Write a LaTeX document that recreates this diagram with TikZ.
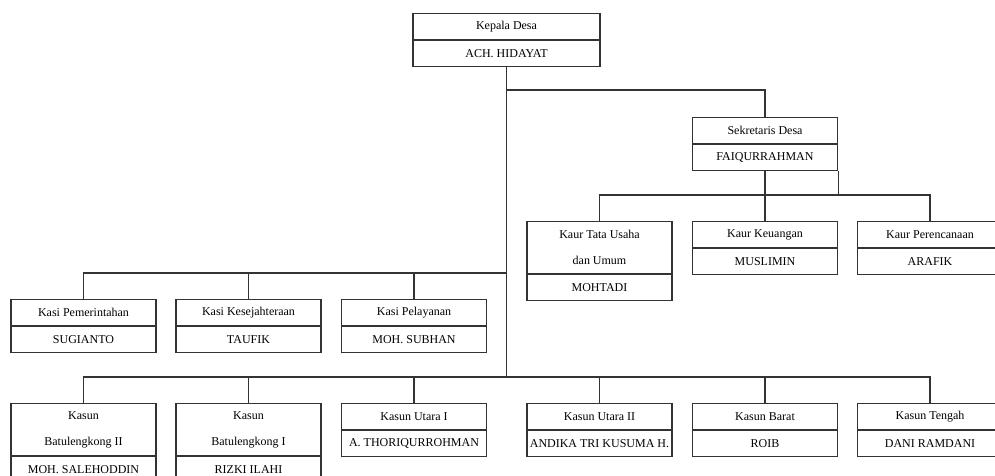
\documentclass[tikz,border=0pt]{standalone}
\usepackage{fontspec}
\setmainfont{Liberation Serif}
\tikzset{
	kotak/.style={draw=black!80, line width=0.9pt, minimum width=108.75pt, minimum height=19.5pt, inner sep=0pt, font=\fontsize{9}{19.5}\selectfont},
	kotakdua/.style={kotak, minimum height=39pt, align=center},
	garis/.style={draw=black!80, line width=0.9pt}
}

\begin{document}
\begin{tikzpicture}[x=0.75pt, y=-0.75pt]
			%%%%% START %%%%%
			\useasboundingbox (0,0) rectangle (995,475);
			\clip (0,0) rectangle (995,475);
			
			% kepala desa
			\node[kotak, minimum width=140.25pt, anchor=north] (tKades) at (506.5,13) {Kepala Desa};
			\node[kotak, minimum width=140.25pt, anchor=north] (nKades) at (tKades.south) {ACH. HIDAYAT};
			
			% sekretaris
			\node[kotak, anchor=north] (tSekdes) at (765,117) {Sekretaris Desa};
			\node[kotak, anchor=north] (nSekdes) at (tSekdes.south) {FAIQURRAHMAN};
			
			% kaur
			\node[kotakdua, anchor=north] (tKaurTU) at (599.5,221) {Kaur Tata Usaha\\dan Umum};
			\node[kotak, anchor=north] (nKaurTU) at (tKaurTU.south) {MOHTADI};
			\node[kotak, anchor=north] (tKaurKeu) at (765,221) {Kaur Keuangan};
			\node[kotak, anchor=north] (nKaurKeu) at (tKaurKeu.south) {MUSLIMIN};
			\node[kotak, anchor=north] (tKaurRen) at (930,221) {Kaur Perencanaan};
			\node[kotak, anchor=north] (nKaurRen) at (tKaurRen.south) {ARAFIK};
			
			% kasi
			\node[kotak, anchor=north] (tKasiPem) at (83.5,299) {Kasi Pemerintahan};
			\node[kotak, anchor=north] (nKasiPem) at (tKasiPem.south) {SUGIANTO};
			\node[kotak, anchor=north] (tKasiKes) at (248.5,299) {Kasi Kesejahteraan};
			\node[kotak, anchor=north] (nKasiKes) at (tKasiKes.south) {TAUFIK};
			\node[kotak, anchor=north] (tKasiPel) at (414,299) {Kasi Pelayanan};
			\node[kotak, anchor=north] (nKasiPel) at (tKasiPel.south) {MOH. SUBHAN};
			
			% kasun
			\node[kotakdua, anchor=north] (tKasunBtII) at (83.5,403) {Kasun\\Batulengkong II};
			\node[kotak, anchor=north] (nKasunBtII) at (tKasunBtII.south) {MOH. SALEHODDIN};
			\node[kotakdua, anchor=north] (tKasunBtI) at (248.5,403) {Kasun\\Batulengkong I};
			\node[kotak, anchor=north] (nKasunBtI) at (tKasunBtI.south) {RIZKI ILAHI};
			\node[kotak, anchor=north] (tKasunUtI) at (414,403) {Kasun Utara I};
			\node[kotak, anchor=north] (nKasunUtI) at (tKasunUtI.south) {A. THORIQURROHMAN};
			\node[kotak, anchor=north] (tKasunUtII) at (599.5,403) {Kasun Utara II};
			\node[kotak, anchor=north] (nKasunUtII) at (tKasunUtII.south) {ANDIKA TRI KUSUMA H.};
			\node[kotak, anchor=north] (tKasunBrt) at (765,403) {Kasun Barat};
			\node[kotak, anchor=north] (nKasunBrt) at (tKasunBrt.south) {ROIB};
			\node[kotak, anchor=north] (tKasunTgh) at (930,403) {Kasun Tengah};
			\node[kotak, anchor=north] (nKasunTgh) at (tKasunTgh.south) {DANI RAMDANI};
			
			% garis
			\coordinate (cabang) at (506.5,90);
			\coordinate (busKaur) at (765,195);
			\coordinate (busKasi) at (506.5,273);
			\coordinate (busKasun) at (506.5,377);
			
			\draw[garis] (nKades.south) -- (busKasun);
			\draw[garis] (cabang) -| (tSekdes.north);
			\draw[garis] (nSekdes.south) -- (busKaur);
			\draw[garis] (nSekdes.south east) -- (nSekdes.south east |- busKaur);
			\foreach \n in {KaurTU,KaurKeu,KaurRen}
				\draw[garis] (busKaur) -| (t\n.north);
			\foreach \n in {KasiPem,KasiKes,KasiPel}
				\draw[garis] (busKasi) -| (t\n.north);
			\foreach \n in {KasunBtII,KasunBtI,KasunUtI,KasunUtII,KasunBrt,KasunTgh}
				\draw[garis] (busKasun) -| (t\n.north);
			
			%%%%% END %%%%%
\end{tikzpicture}
\end{document}
